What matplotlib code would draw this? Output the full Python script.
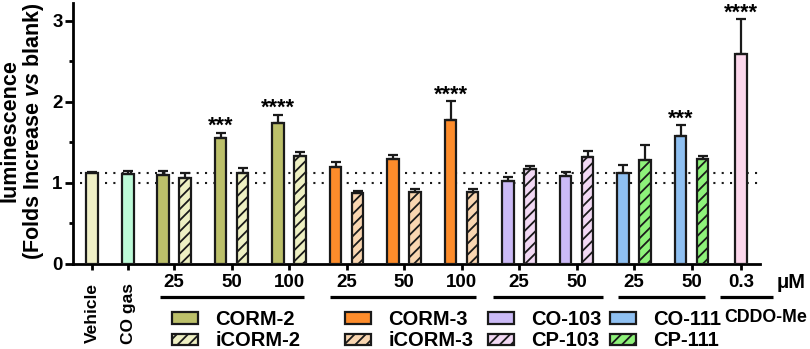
import numpy as np
import matplotlib
matplotlib.use('Agg')
from matplotlib import pyplot as plt
from matplotlib.patches import Patch
from matplotlib.transforms import blended_transform_factory

plt.rcParams['font.family'] = ['Liberation Sans', 'DejaVu Sans']
plt.rcParams['font.weight'] = 'bold'
plt.rcParams['mathtext.fontset'] = 'custom'
plt.rcParams['mathtext.it'] = 'Liberation Sans:italic:bold'
plt.rcParams['mathtext.rm'] = 'Liberation Sans:bold'
plt.rcParams['hatch.linewidth'] = 1.3

# === dados ===
vehicle, vehicle_err = [1.12], [0.02]
co_gas, co_gas_err = [1.11], [0.04]
corm2, corm2_err = [1.10, 1.56, 1.74], [0.05, 0.06, 0.10]
icorm2, icorm2_err = [1.06, 1.12, 1.33], [0.06, 0.07, 0.05]
corm3, corm3_err = [1.20, 1.29, 1.78], [0.06, 0.06, 0.23]
icorm3, icorm3_err = [0.87, 0.89, 0.89], [0.03, 0.03, 0.04]
co103, co103_err = [1.02, 1.08], [0.05, 0.06]
cp103, cp103_err = [1.17, 1.325], [0.04, 0.075]
co111, co111_err = [1.12, 1.58], [0.10, 0.13]
cp111, cp111_err = [1.28, 1.30], [0.19, 0.03]
cddo, cddo_err = [2.59], [0.43]

doses_corm = ['25', '50', '100']
doses_co = ['25', '50']
dose_cddo = ['0.3']

# === cores ===
c_vehicle = '#efefc6'
c_cogas = '#bdfbd8'
c_corm2, c_icorm2 = '#bcc06a', '#eef0c3'
c_corm3, c_icorm3 = '#fd8c2b', '#f9d6b1'
c_co103, c_cp103 = '#cbbaf6', '#f2d9f4'
c_co111, c_cp111 = '#8fc0f1', '#8ef27a'
c_cddo = '#fcd7ec'
edge = '#1a1a1a'
hachura = '///'

# === layout (unidade = px a partir do eixo y) ===
passo = 57.5
x_vehicle = [19]
x_cogas = [55]
pares = 101 + passo * np.arange(10)
x_corm2 = pares[0:3]
x_corm3 = pares[3:6]
x_co103 = pares[6:8]
x_co111 = pares[8:10]
x_cddo = [668]
desloc = 11
larg = 11.5

fig = plt.figure(figsize=(8.1, 3.49), dpi=100)
ax = fig.add_axes([73 / 810, 1 - 264 / 349, 687 / 810, 261 / 349])


def barras(x, h, err, cor, hatch=None):
    return ax.bar(x, h, width=larg, color=cor, edgecolor=edge, linewidth=1.6, hatch=hatch,
                  yerr=[np.zeros(len(h)), err],
                  error_kw=dict(ecolor=edge, elinewidth=1.6, capsize=3.5, capthick=1.6),
                  zorder=3)


barras(x_vehicle, vehicle, vehicle_err, c_vehicle)
barras(x_cogas, co_gas, co_gas_err, c_cogas)
barras(x_corm2 - desloc, corm2, corm2_err, c_corm2)
barras(x_corm2 + desloc, icorm2, icorm2_err, c_icorm2, hachura)
barras(x_corm3 - desloc, corm3, corm3_err, c_corm3)
barras(x_corm3 + desloc, icorm3, icorm3_err, c_icorm3, hachura)
barras(x_co103 - desloc, co103, co103_err, c_co103)
barras(x_co103 + desloc, cp103, cp103_err, c_cp103, hachura)
barras(x_co111 - desloc, co111, co111_err, c_co111)
barras(x_co111 + desloc, cp111, cp111_err, c_cp111, hachura)
barras(x_cddo, cddo, cddo_err, c_cddo)

# linhas pontilhadas de referencia
for yref in (1.0, vehicle[0]):
    ax.axhline(yref, xmin=0.01, ls=(0, (1, 3)), lw=1.5, color=edge, zorder=1)

# === significancia ===
sig = [
    (x_corm2[1] - desloc, corm2[1] + corm2_err[1], '***'),
    (x_corm2[2] - desloc, corm2[2] + corm2_err[2], '****'),
    (x_corm3[2] - desloc, corm3[2] + corm3_err[2], '****'),
    (x_co111[1] - desloc, co111[1] + co111_err[1], '***'),
    (x_cddo[0], cddo[0] + cddo_err[0], '****'),
]
for xs, ys, txt in sig:
    ax.annotate(txt, (xs, ys), xytext=(0, 0.5), textcoords='offset points',
                ha='center', va='baseline', fontsize=15.5, annotation_clip=False)

# === eixos ===
ax.set_xlim(0, 687)
ax.set_ylim(0, 3.22)
ax.set_yticks([0, 1, 2, 3])
ax.set_yticks([0.5, 1.5, 2.5], minor=True)
xt = list(x_vehicle) + list(x_cogas) + list(pares) + list(x_cddo)
ax.set_xticks(xt)
ax.set_xticklabels(['', ''] + doses_corm * 2 + doses_co * 2 + dose_cddo)
for s in ('top', 'right'):
    ax.spines[s].set_visible(False)
for s in ('left', 'bottom'):
    ax.spines[s].set_linewidth(2)
ax.tick_params(axis='y', which='major', length=5.5, width=2, labelsize=13.5, pad=2)
ax.tick_params(axis='y', which='minor', length=3, width=2)
ax.tick_params(axis='x', length=4, width=2, labelsize=13.5, pad=3)

trans = blended_transform_factory(ax.transData, ax.transAxes)
ax.text(x_vehicle[0], -0.072, 'Vehicle', rotation=90, ha='center', va='top', fontsize=12.5, transform=trans)
ax.text(x_cogas[0], -0.072, 'CO gas', rotation=90, ha='center', va='top', fontsize=12.5, transform=trans)

# sublinhados dos grupos
y_linha = -0.126
for x0, x1 in [(87, 231), (257, 403), (420, 530), (545, 632), (647, 700)]:
    ax.plot([x0, x1], [y_linha, y_linha], color='black', lw=2.3, solid_capstyle='butt',
            transform=trans, clip_on=False)

fig.text(791 / 810, 1 - 283 / 349, 'μM', ha='center', va='center', fontsize=14.5)

# === titulo eixo y ===
fig.text(23 / 810, 1 - 131 / 349, 'luminescence\n(Folds Increase $vs$ blank)', rotation=90,
         ha='center', va='center', fontsize=15.5, linespacing=1.0, multialignment='center')

# === legenda ===
colunas = [
    (172, [('CORM-2', c_corm2, None), ('iCORM-2', c_icorm2, hachura)]),
    (345, [('CORM-3', c_corm3, None), ('iCORM-3', c_icorm3, hachura)]),
    (488, [('CO-103', c_co103, None), ('CP-103', c_cp103, hachura)]),
    (610, [('CO-111', c_co111, None), ('CP-111', c_cp111, hachura)]),
]
for xl, itens in colunas:
    handles = [Patch(facecolor=c, edgecolor=edge, hatch=h, lw=1.6) for _, c, h in itens]
    leg = fig.legend(handles, [t for t, _, _ in itens], loc='upper left',
                     bbox_to_anchor=(xl / 810, 1 - 310 / 349), frameon=False, fontsize=14.5,
                     borderpad=0, borderaxespad=0, handlelength=1.3, handleheight=0.5,
                     handletextpad=0.85, labelspacing=0.12)
fig.text(724 / 810, 1 - 318 / 349, 'CDDO-Me', ha='left', va='center', fontsize=12.8)

fig.savefig('out.png', dpi=100)
